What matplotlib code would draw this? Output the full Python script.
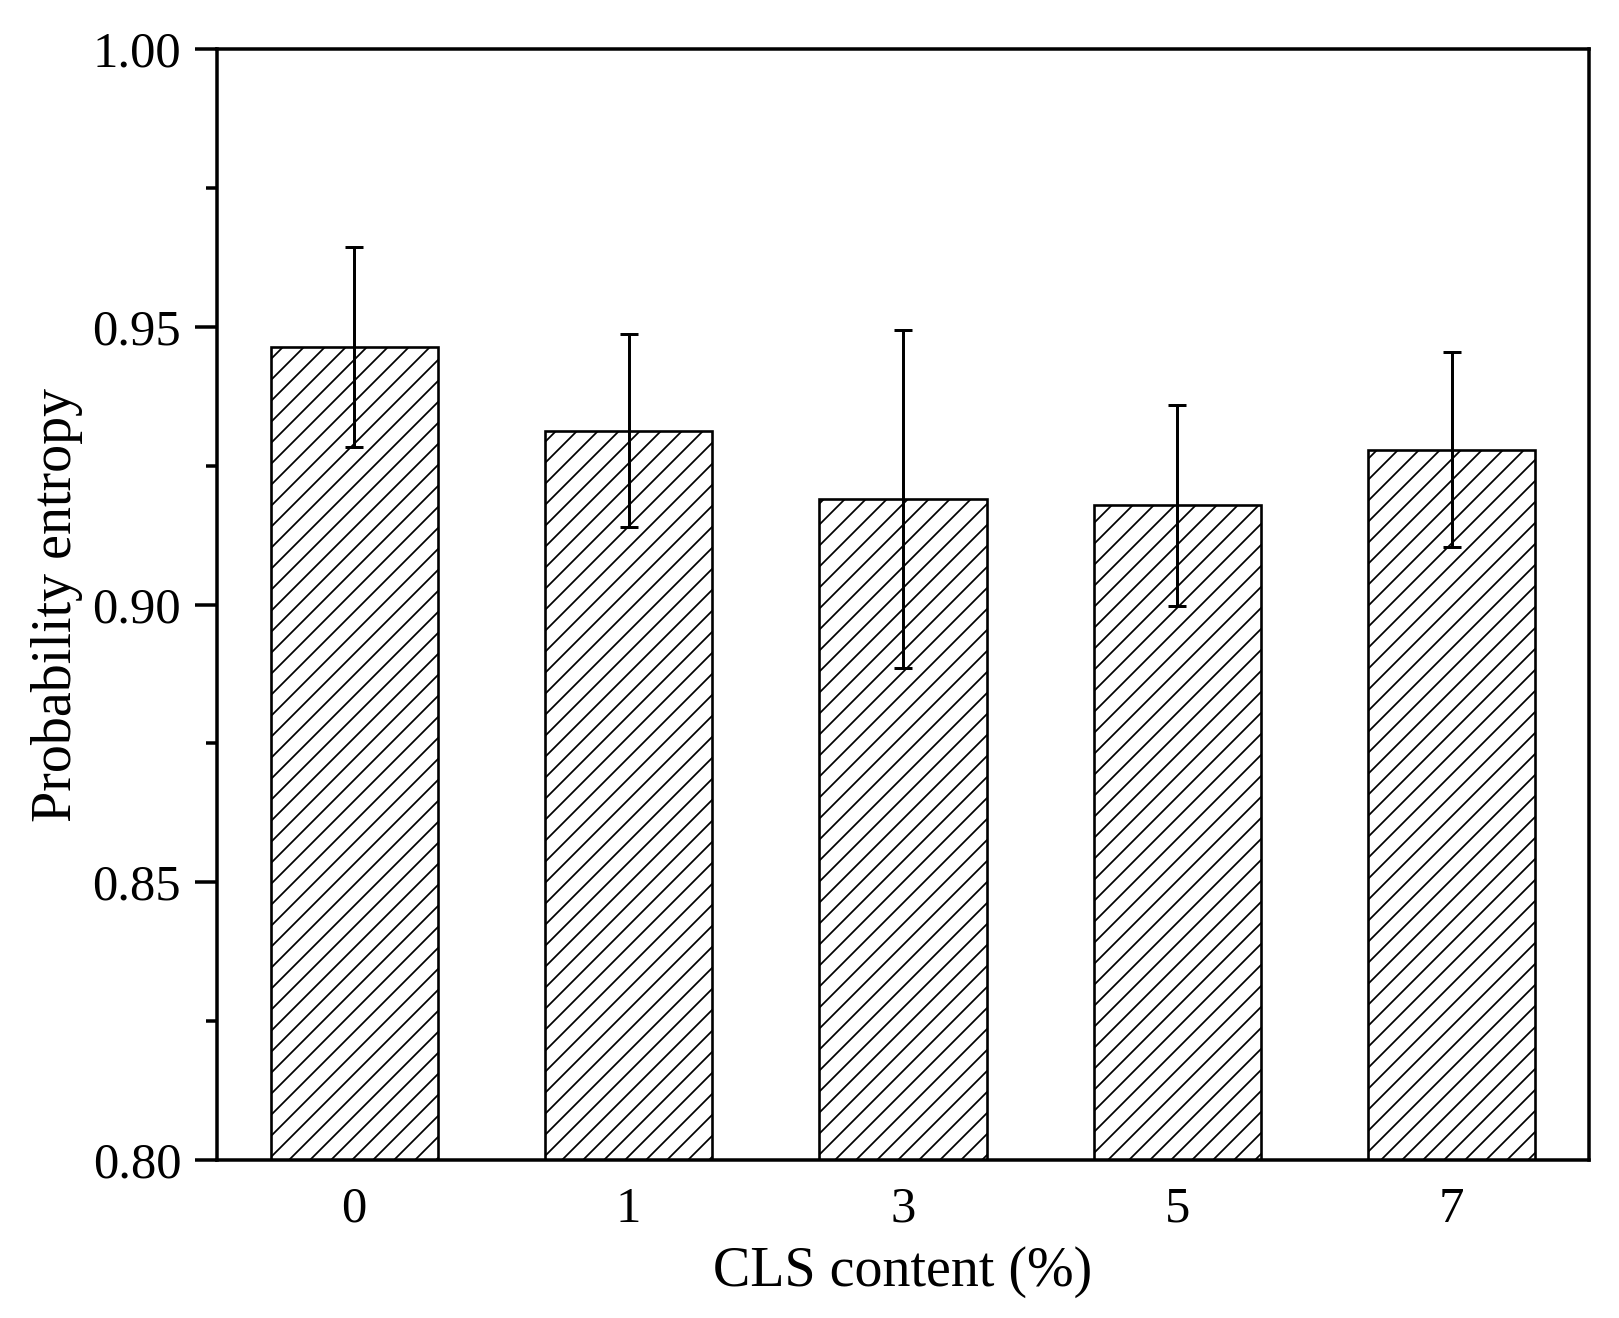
import matplotlib
matplotlib.use("Agg")
import matplotlib.pyplot as plt
from matplotlib.ticker import MultipleLocator

# values
cls_content = ["0", "1", "3", "5", "7"]
entropy = [0.9463, 0.9313, 0.9190, 0.9179, 0.9279]
entropy_err = [0.0180, 0.0174, 0.0305, 0.0181, 0.0176]

plt.rcParams["font.family"] = ["Liberation Serif", "DejaVu Serif"]
plt.rcParams["hatch.linewidth"] = 1.0
plt.rcParams["hatch.color"] = "black"

dpi = 126
fig = plt.figure(figsize=(1619 / dpi, 1318 / dpi), dpi=dpi)
ax = fig.add_axes([217 / 1619, 1 - 1160 / 1318, 1372 / 1619, 1111 / 1318])

x = range(len(cls_content))
ax.bar(x, entropy, width=0.61, color="white", edgecolor="black",
       linewidth=1.5, hatch="//", zorder=2)
ax.errorbar(x, entropy, yerr=entropy_err, fmt="none", ecolor="black",
            elinewidth=1.7, capsize=5, capthick=1.7, zorder=3)

ax.set_xlim(-0.5, 4.5)
ax.set_ylim(0.80, 1.00)
ax.set_xticks(list(x))
ax.set_xticklabels(cls_content)
ax.yaxis.set_major_locator(MultipleLocator(0.05))
ax.yaxis.set_minor_locator(MultipleLocator(0.025))
ax.yaxis.set_major_formatter(matplotlib.ticker.FormatStrFormatter("%.2f"))

for s in ax.spines.values():
    s.set_linewidth(2.0)
ax.tick_params(axis="y", which="major", direction="out", length=12.5, width=2.0,
               labelsize=29, pad=8)
ax.tick_params(axis="y", which="minor", direction="out", length=6.5, width=2.0)
ax.tick_params(axis="x", which="major", length=0, labelsize=29, pad=15)

ax.set_xlabel("CLS content (%)", fontsize=32)
ax.set_ylabel("Probability entropy", fontsize=32)
ax.xaxis.set_label_coords(0.5, -0.077)
ax.yaxis.set_label_coords(-0.098, 0.5)

fig.savefig("out.png", dpi=dpi)
